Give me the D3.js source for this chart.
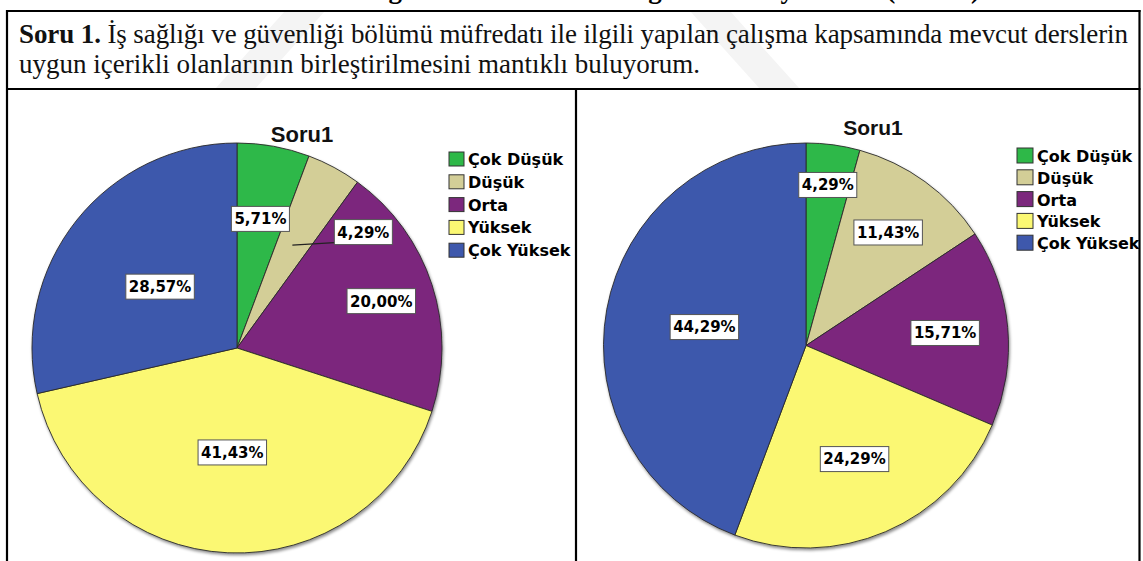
<!DOCTYPE html>
<html lang="tr">
<head>
<meta charset="UTF-8">
<title>Soru1</title>
<script src="https://d3js.org/d3.v7.min.js"></script>
<style>
  body { margin: 0; background: #fff; }
  svg { display: block; }
</style>
</head>
<body>
<script>
// data
const categories = ["Çok Düşük", "Düşük", "Orta", "Yüksek", "Çok Yüksek"];
const colors = ["#2EB848", "#D3CE97", "#7C287D", "#FBF873", "#3E58AC"];
const valuesLeft = [5.71, 4.29, 20.00, 41.43, 28.57];
const valuesRight = [4.29, 11.43, 15.71, 24.29, 44.29];
const chartTitle = "Soru1";
const questionNo = "Soru 1.";
const questionLine1 = " İş sağlığı ve güvenliği bölümü müfredatı ile ilgili yapılan çalışma kapsamında mevcut derslerin";
const questionLine2 = "uygun içerikli olanlarının birleştirilmesini mantıklı buluyorum.";
const captionAbove = "Tablo 1. Bölüm öğretim elemanları ile öğrencilerin yanıtları (Soru 1)";

const width = 1143, height = 561;
const svg = d3.select("body").append("svg").attr("width", width).attr("height", height);

const defs = svg.append("defs");
defs.append("filter").attr("id", "shadow")
  .attr("x", "-10%").attr("y", "-10%").attr("width", "120%").attr("height", "120%")
  .append("feDropShadow")
  .attr("dx", 1).attr("dy", 2).attr("stdDeviation", 1.5)
  .attr("flood-color", "#000").attr("flood-opacity", 0.45);

// faint watermark bands in the header
const bands = [
  [[285, 11], [325, 11], [255, 89], [215, 89]],
  [[690, 11], [730, 11], [800, 89], [760, 89]]
];
svg.selectAll("polygon.wm").data(bands).enter().append("polygon")
  .attr("class", "wm")
  .attr("points", d => d.map(p => p.join(",")).join(" "))
  .attr("fill", "#f4f4f4");

// caption of the page, cut off at the top edge (only descenders show)
svg.append("text")
  .attr("x", 980).attr("y", -2)
  .attr("text-anchor", "end")
  .style("font-family", "'Liberation Serif', serif")
  .style("font-size", "27px")
  .style("font-weight", "bold")
  .text(captionAbove);

// question text
const q1 = svg.append("text")
  .attr("x", 19).attr("y", 43)
  .attr("textLength", 1109).attr("lengthAdjust", "spacing")
  .style("font-family", "'Liberation Serif', serif")
  .style("font-size", "27px")
  .style("fill", "#111");
q1.append("tspan").style("font-weight", "bold").text(questionNo);
q1.append("tspan").text(questionLine1);

svg.append("text")
  .attr("x", 19).attr("y", 73)
  .style("font-family", "'Liberation Serif', serif")
  .style("font-size", "27px")
  .style("fill", "#111")
  .text(questionLine2);

// table borders
const lines = [
  [6, 11, 1140.5, 11], [6, 89, 1140.5, 89],
  [7, 10, 7, 561], [1139.5, 10, 1139.5, 561], [576, 89, 576, 561]
];
svg.selectAll("line.border").data(lines).enter().append("line")
  .attr("class", "border")
  .attr("x1", d => d[0]).attr("y1", d => d[1])
  .attr("x2", d => d[2]).attr("y2", d => d[3])
  .attr("stroke", "#000").attr("stroke-width", 2.2);

function drawPie(cfg) {
  const g = svg.append("g");
  const pie = d3.pie().sort(null).value(d => d)(cfg.values);
  const arc = d3.arc().innerRadius(0).outerRadius(cfg.r);

  g.append("g")
    .attr("transform", `translate(${cfg.cx},${cfg.cy})`)
    .attr("filter", "url(#shadow)")
    .selectAll("path").data(pie).enter().append("path")
    .attr("d", arc)
    .attr("fill", (d, i) => colors[i])
    .attr("stroke", "#2a2a2a").attr("stroke-width", 0.9);

  // labels
  const lab = g.append("g").attr("transform", `translate(${cfg.cx},${cfg.cy})`);
  pie.forEach((d, i) => {
    const k = cfg.labelK[i];
    const c = d3.arc().innerRadius(k * cfg.r).outerRadius(k * cfg.r).centroid(d);
    const off = cfg.callout && cfg.callout.index === i ? cfg.callout.offset : [0, 0];
    const pos = [c[0] + off[0], c[1] + off[1]];
    const txt = d3.format(".2f")(d.data).replace(".", ",") + "%";
    const t = lab.append("text")
      .attr("x", pos[0]).attr("y", pos[1])
      .attr("dy", "0.36em")
      .attr("text-anchor", "middle")
      .style("font-family", "'DejaVu Sans', sans-serif")
      .style("font-size", "15px")
      .style("font-weight", "bold")
      .style("fill", "#000")
      .text(txt);
    const bb = t.node().getBBox();
    const w = bb.width + 6, h = 25;
    if (off[0] !== 0 || off[1] !== 0) {
      lab.insert("line", "text")
        .attr("x1", c[0]).attr("y1", c[1])
        .attr("x2", pos[0] - w / 2).attr("y2", pos[1] + h / 2 - 2)
        .attr("stroke", "#222").attr("stroke-width", 1.2);
    }
    lab.insert("rect", "text")
      .attr("x", pos[0] - w / 2).attr("y", pos[1] - h / 2)
      .attr("width", w).attr("height", h)
      .attr("fill", "#fff").attr("stroke", "#555").attr("stroke-width", 1);
  });

  // title
  g.append("text")
    .attr("x", cfg.titleX).attr("y", cfg.titleY)
    .attr("text-anchor", "middle")
    .style("font-family", "'Liberation Sans', Arial, sans-serif")
    .style("font-size", cfg.titleSize + "px")
    .style("font-weight", "bold")
    .style("fill", "#111")
    .text(chartTitle);

  // legend
  const leg = g.append("g");
  categories.forEach((name, i) => {
    const y = cfg.legY + i * cfg.legStep;
    leg.append("rect")
      .attr("x", cfg.legX).attr("y", y)
      .attr("width", cfg.sw).attr("height", cfg.sw - 1)
      .attr("fill", colors[i]).attr("stroke", "#333").attr("stroke-width", 1);
    leg.append("text")
      .attr("x", cfg.legX + cfg.sw + 4).attr("y", y + cfg.sw - 2)
      .style("font-family", "'DejaVu Sans', sans-serif")
      .style("font-size", cfg.legSize + "px")
      .style("font-weight", "bold")
      .style("fill", "#000")
      .text(name);
  });
}

drawPie({
  values: valuesLeft, cx: 237, cy: 348, r: 205,
  labelK: [0.64, 0.57, 0.74, 0.51, 0.48],
  callout: { index: 1, offset: [71, -13] },
  titleX: 302, titleY: 142, titleSize: 22,
  legX: 449, legY: 152, legStep: 22.8, sw: 15, legSize: 16
});

drawPie({
  values: valuesRight, cx: 806, cy: 345.5, r: 202.5,
  labelK: [0.80, 0.69, 0.69, 0.61, 0.51],
  titleX: 873, titleY: 135, titleSize: 21,
  legX: 1017, legY: 148, legStep: 21.8, sw: 16, legSize: 16
});
</script>
</body>
</html>
